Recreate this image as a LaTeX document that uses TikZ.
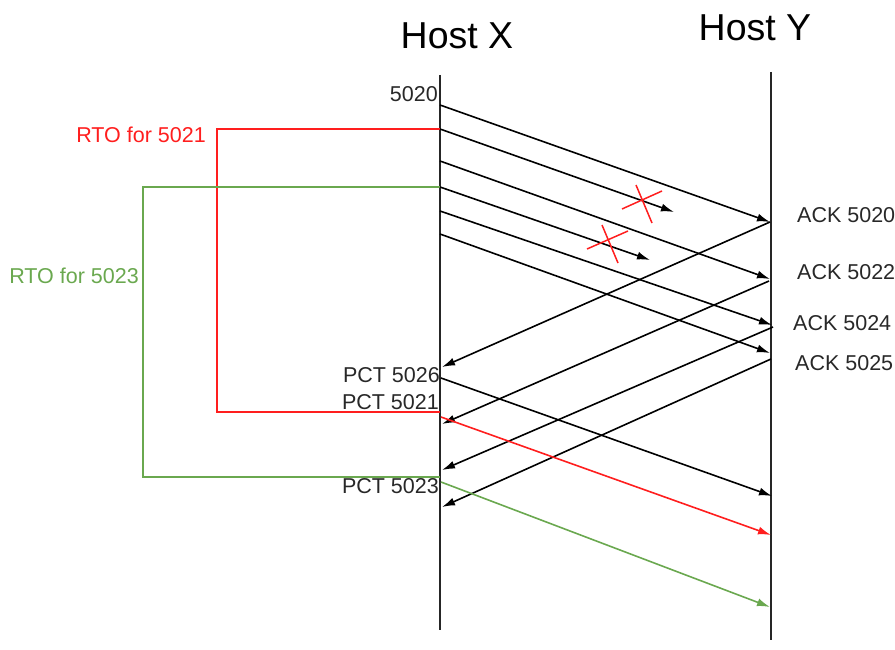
\documentclass[tikz,border=0pt]{standalone}
\usepackage{fontspec}
\setmainfont{Liberation Sans}
\usetikzlibrary{arrows.meta}
\definecolor{rto_red}{RGB}{255,30,30}
\definecolor{rto_green}{RGB}{106,168,79}
\definecolor{text_gray}{RGB}{40,40,40}

\begin{document}
\begin{tikzpicture}[x=1pt,y=-1pt,>={Latex[length=13pt,width=8pt]}]
    \tikzstyle{host}=[inner sep=0pt, text=black, font=\fontsize{37.5}{42}\selectfont]
    \tikzstyle{lbl}=[inner sep=0pt, text=text_gray, font=\fontsize{21.5}{25}\selectfont]
    \tikzstyle{life}=[line width=1.8pt, draw=black!85]
    \tikzstyle{msg}=[->, line width=1.6pt, draw=black]
    \tikzstyle{cross}=[line width=1.5pt, draw=rto_red]
    \useasboundingbox (0,0) rectangle (895,650);

    % hosts and life lines
    \node[host] (hx) at (457,36) {Host X};
    \node[host] (hy) at (755,28) {Host Y};
    \coordinate (xtop) at (440,75);   \coordinate (xbot) at (440,630);
    \coordinate (ytop) at (771,72);   \coordinate (ybot) at (771,640);
    \draw[life] (xtop) -- (xbot);
    \draw[life] (ytop) -- (ybot);

    % segments sent by X
    \coordinate (s1) at (440,105);  \coordinate (a1) at (770,222);
    \coordinate (s2) at (440,129);  \coordinate (l2) at (674,212);
    \coordinate (s3) at (440,161);  \coordinate (a3) at (770,279);
    \coordinate (s4) at (440,187);  \coordinate (l4) at (650,260);
    \coordinate (s5) at (440,211);  \coordinate (a5) at (772,325);
    \coordinate (s6) at (440,234);  \coordinate (a6) at (770,353);
    \node[lbl, anchor=east] (n5020) at (438,94) {5020};

    % ACKs sent back by Y
    \coordinate (k1) at (770,222);  \coordinate (r1) at (442,367);
    \coordinate (k2) at (769,281);  \coordinate (r2) at (442,424);
    \coordinate (k3) at (773,327);  \coordinate (r3) at (442,470);
    \coordinate (k4) at (771,359);  \coordinate (r4) at (442,507);
    \node[lbl, anchor=west] (ack20) at (797,215) {ACK 5020};
    \node[lbl, anchor=west] (ack22) at (797,272) {ACK 5022};
    \node[lbl, anchor=west] (ack24) at (793,323) {ACK 5024};
    \node[lbl, anchor=west] (ack25) at (795,363) {ACK 5025};

    % segments sent after the ACKs
    \coordinate (p26) at (441,378);  \coordinate (e26) at (772,496);
    \coordinate (p21) at (441,417);  \coordinate (e21) at (771,535);
    \coordinate (p23) at (441,482);  \coordinate (e23) at (770,607);
    \node[lbl, anchor=east] (pct26) at (440,375) {PCT 5026};
    \node[lbl, anchor=east] (pct21) at (439,402) {PCT 5021};
    \node[lbl, anchor=east] (pct23) at (439,486) {PCT 5023};

    % retransmission timers
    \coordinate (tr) at (217,412);  \coordinate (tre) at (440,412);
    \coordinate (tg) at (143,477);  \coordinate (tge) at (440,477);
    \node[lbl, anchor=east, text=rto_red] (rto21) at (206,135) {RTO for 5021};
    \node[lbl, anchor=east, text=rto_green] (rto23) at (139,276) {RTO for 5023};
    \draw[line width=1.6pt, rto_red] (s2) -| (tr) -- (tre);
    \draw[line width=1.6pt, rto_green] (s4) -| (tg) -- (tge);

    % lost segments
    \coordinate (c1a) at (622,209);  \coordinate (c1b) at (662,191);
    \coordinate (c1c) at (636,185);  \coordinate (c1d) at (652,223);
    \coordinate (c2a) at (587,249);  \coordinate (c2b) at (628,231);
    \coordinate (c2c) at (602,225);  \coordinate (c2d) at (618,263);

    \path
     (s1) edge[msg] (a1)
     (s2) edge[msg] (l2)
     (s3) edge[msg] (a3)
     (s4) edge[msg] (l4)
     (s5) edge[msg] (a5)
     (s6) edge[msg] (a6)
     (k1) edge[msg] (r1)
     (k2) edge[msg] (r2)
     (k3) edge[msg] (r3)
     (k4) edge[msg] (r4)
     (p26) edge[msg] (e26)
     (p21) edge[msg, draw=rto_red] (e21)
     (p23) edge[msg, draw=rto_green] (e23)
     (c1a) edge[cross] (c1b)
     (c1c) edge[cross] (c1d)
     (c2a) edge[cross] (c2b)
     (c2c) edge[cross] (c2d)
     ;
\end{tikzpicture}
\end{document}
